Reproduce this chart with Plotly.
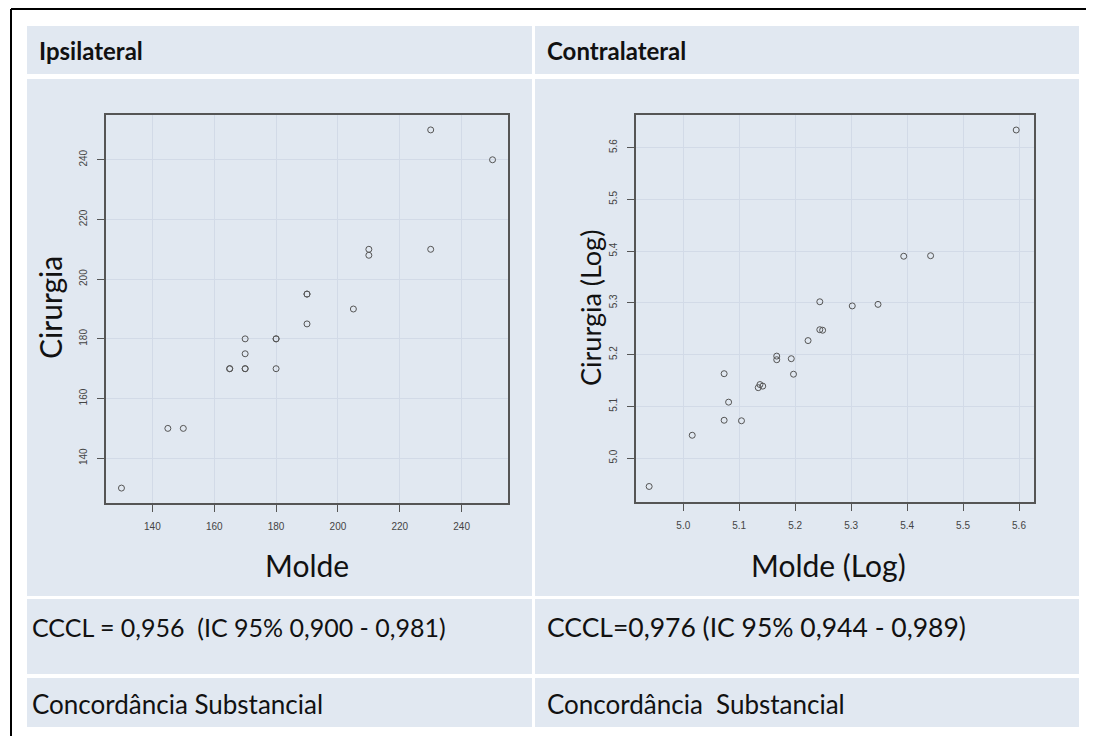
import plotly.graph_objects as go

# ---- Data ----
ipsi_molde = [130, 145, 150, 165, 165, 170, 170, 170, 170, 180, 180, 180, 190, 190, 190, 205, 210, 210, 230, 230, 250]
ipsi_cirurgia = [130, 150, 150, 170, 170, 170, 170, 175, 180, 180, 180, 170, 195, 195, 185, 190, 210, 208, 250, 210, 240]

contra_molde_log = [4.939, 5.016, 5.073, 5.073, 5.081, 5.104, 5.134, 5.137, 5.142, 5.167, 5.167,
                    5.193, 5.197, 5.223, 5.244, 5.244, 5.249, 5.302, 5.348, 5.394, 5.442, 5.595]
contra_cirurgia_log = [4.945, 5.044, 5.073, 5.163, 5.108, 5.072, 5.136, 5.142, 5.139, 5.197, 5.190,
                       5.192, 5.162, 5.227, 5.302, 5.248, 5.247, 5.294, 5.297, 5.390, 5.391, 5.634]

ipsi_ticks = [140, 160, 180, 200, 220, 240]
contra_ticks = [5.0, 5.1, 5.2, 5.3, 5.4, 5.5, 5.6]
contra_ticklabels = ["5.0", "5.1", "5.2", "5.3", "5.4", "5.5", "5.6"]

headers = ["Ipsilateral", "Contralateral"]
ccc_texts = ["CCCL = 0,956  (IC 95% 0,900 - 0,981)", "CCCL=0,976 (IC 95% 0,944 - 0,989)"]
concl_texts = ["Concordância Substancial", "Concordância  Substancial"]
x_titles = ["Molde", "Molde (Log)"]
y_titles = ["Cirurgia", "Cirurgia (Log)"]

# ---- Layout helpers (page has an 8px body margin) ----
OFF = 8
FW, FH = 1078, 728
def px(x):
    return (x - OFF) / FW
def py(y):
    return 1 - (y - OFF) / FH

CELL = "#e1e8f1"
TEXTFONT = "Lato, 'Open Sans', sans-serif"
TICKFONT = dict(family="Liberation Sans, Arial, sans-serif", size=10, color="#444")

fig = go.Figure()

marker = dict(symbol="circle-open", size=6, color="#555", line=dict(width=1, color="#555"))
fig.add_trace(go.Scatter(x=ipsi_molde, y=ipsi_cirurgia, mode="markers", marker=marker,
                         xaxis="x", yaxis="y", showlegend=False))
fig.add_trace(go.Scatter(x=contra_molde_log, y=contra_cirurgia_log, mode="markers", marker=marker,
                         xaxis="x2", yaxis="y2", showlegend=False))

axis_common = dict(showline=True, linecolor="#555", linewidth=1.5, mirror=True,
                   ticks="outside", ticklen=7, tickcolor="#555", tickwidth=1,
                   showgrid=True, gridcolor="#d2dae7", gridwidth=1, zeroline=False,
                   tickfont=TICKFONT, ticklabelstandoff=6)

shapes = []
cols = [(27, 532), (535, 1079)]
rows = [(26, 74), (79, 596), (599, 674), (678, 727)]
for (x0, x1) in cols:
    for (y0, y1) in rows:
        shapes.append(dict(type="rect", xref="paper", yref="paper",
                           x0=px(x0), x1=px(x1), y0=py(y1), y1=py(y0),
                           fillcolor=CELL, line=dict(width=0), layer="below"))
shapes.append(dict(type="line", xref="paper", yref="paper", x0=px(11), x1=1, y0=py(9), y1=py(9),
                   line=dict(color="black", width=2)))
shapes.append(dict(type="line", xref="paper", yref="paper", x0=px(11), x1=px(11), y0=py(9), y1=0,
                   line=dict(color="black", width=2)))

annotations = []
head_x = [37, 545]
body_x = [30, 545]
ccc_sizes = [25, 26.5]
for i in range(2):
    annotations.append(dict(text="<b>%s</b>" % headers[i], xref="paper", yref="paper",
                            x=px(head_x[i]), y=py(50), xanchor="left", yanchor="middle", showarrow=False,
                            font=dict(family=TEXTFONT, size=24, color="#111")))
    annotations.append(dict(text=ccc_texts[i], xref="paper", yref="paper",
                            x=px(body_x[i]), y=py(627), xanchor="left", yanchor="middle", showarrow=False,
                            font=dict(family=TEXTFONT, size=ccc_sizes[i], color="#111")))
    annotations.append(dict(text=concl_texts[i], xref="paper", yref="paper",
                            x=px(body_x[i]), y=py(704), xanchor="left", yanchor="middle", showarrow=False,
                            font=dict(family=TEXTFONT, size=26, color="#111")))

xt_x = [307, 828]
yt_x = [50, 590]
xt_sizes = [30, 30]
yt_sizes = [30, 27]
for i in range(2):
    annotations.append(dict(text=x_titles[i], xref="paper", yref="paper",
                            x=px(xt_x[i]), y=py(565), xanchor="center", yanchor="middle", showarrow=False,
                            font=dict(family=TEXTFONT, size=xt_sizes[i], color="#111")))
    annotations.append(dict(text=y_titles[i], xref="paper", yref="paper",
                            x=px(yt_x[i]), y=py(308), xanchor="center", yanchor="middle", showarrow=False,
                            textangle=-90, font=dict(family=TEXTFONT, size=yt_sizes[i], color="#111")))

fig.update_layout(
    width=FW, height=FH,
    margin=dict(l=0, r=0, t=0, b=0),
    paper_bgcolor="white",
    plot_bgcolor=CELL,
    xaxis=dict(domain=[px(106), px(508)], range=[125, 255], tickvals=ipsi_ticks, anchor="y", **axis_common),
    yaxis=dict(domain=[py(503), py(115)], range=[125, 255], tickvals=ipsi_ticks, tickangle=-90,
               anchor="x", **axis_common),
    xaxis2=dict(domain=[px(636), px(1034)], range=[4.9155, 5.6268], tickvals=contra_ticks,
                ticktext=contra_ticklabels, anchor="y2", **axis_common),
    yaxis2=dict(domain=[py(502), py(115)], range=[4.915, 5.663], tickvals=contra_ticks,
                ticktext=contra_ticklabels, tickangle=-90, anchor="x2", **axis_common),
    shapes=shapes,
    annotations=annotations,
)

fig.write_html("out.html")
